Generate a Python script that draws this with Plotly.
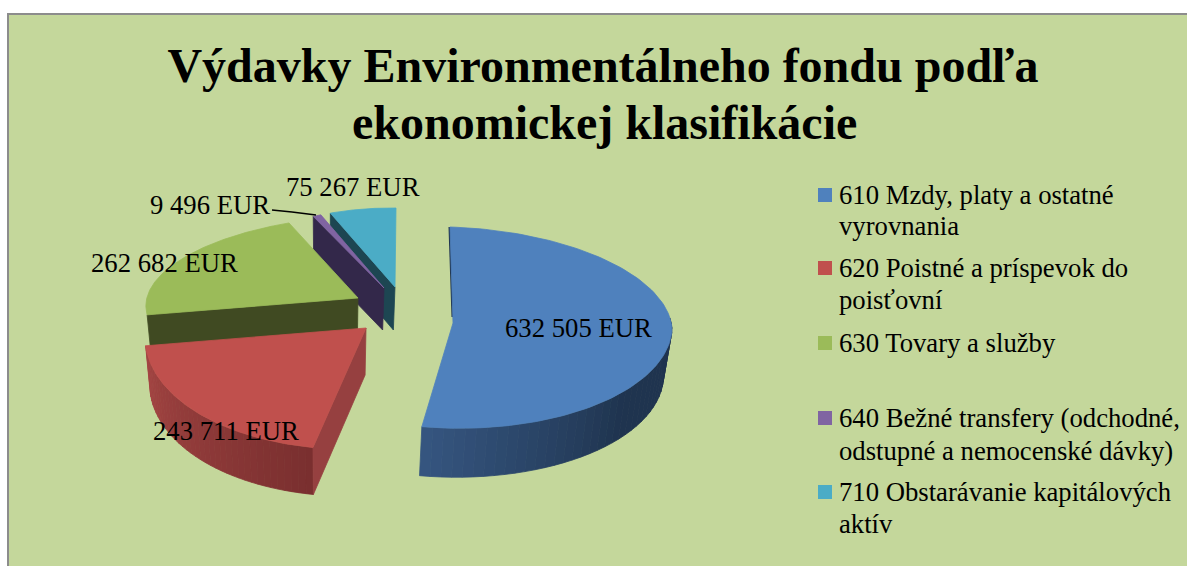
import plotly.graph_objects as go
import numpy as np

# ---- data ----
categories = ["610 Mzdy, platy a ostatné<br>vyrovnania",
              "620 Poistné a príspevok do<br>poisťovní",
              "630 Tovary a služby",
              "640 Bežné transfery (odchodné,<br>odstupné a nemocenské dávky)",
              "710 Obstarávanie kapitálových<br>aktív"]
values = [632505, 243711, 262682, 9496, 75267]
colors = ["#4F81BD", "#C0504D", "#9BBB59", "#8064A2", "#4BACC6"]
title_lines = ["Výdavky Environmentálneho fondu podľa", "ekonomickej klasifikácie"]

# ---- 3D projection of each exploded slice (pixel-mapped axes) ----
apex = [(453, 323), (366, 328), (358, 298), (384, 288), (395, 287)]
U = [(219, 7), (219, 8), (211, 0.6), (170, 0), (174, 2)]
V_top = [(-3, -96), (30, -121), (22, -82.5), (1, -79), (1, -79)]
V_bot = [(8, -105), (30, -121), (22, -82.5), (1, -79), (1, -79)]
depth = [49, 47, 46, 42, 43]
PERSP = 0.025
VPX = 330
BG = "#C4D79B"
FONT = "Liberation Serif"
LABEL_SIZE = 26.7

total = sum(values)
edges = np.cumsum([0] + values) / total * 2 * np.pi


def P(i, t):
    t = np.asarray(t, dtype=float)
    c, s = np.cos(t), np.sin(t)
    vx = np.where(c >= 0, V_top[i][0], V_bot[i][0])
    vy = np.where(c >= 0, V_top[i][1], V_bot[i][1])
    return apex[i][0] + U[i][0] * s + vx * c, apex[i][1] + U[i][1] * s + vy * c


def ext(i, x, y):
    x = np.asarray(x, dtype=float)
    return x + PERSP * (VPX - x), np.asarray(y, dtype=float) + depth[i]


def poly(fig, x, y, color, name=None, hover=False):
    fig.add_trace(go.Scatter(
        x=list(x) + [x[0]], y=list(y) + [y[0]], mode="lines", fill="toself",
        fillcolor=color, line=dict(color=color, width=0.8), showlegend=False,
        name=name, hoverinfo="name" if hover else "skip"))


def mix(a, b, f):
    a = [int(a[k:k + 2], 16) for k in (1, 3, 5)]
    b = [int(b[k:k + 2], 16) for k in (1, 3, 5)]
    return "rgb(%d,%d,%d)" % tuple(round(p + (q - p) * f) for p, q in zip(a, b))


def radial_wall(fig, i, t, color):
    px, py = P(i, t)
    ax, ay = apex[i]
    ex, ey = ext(i, [px, ax], [py, ay])
    poly(fig, [ax, float(px), float(ex[0]), float(ex[1])],
         [ay, float(py), float(ey[0]), float(ey[1])], color)


def arc_wall(fig, i, t0, t1, c0, c1, cmid=None, n=36):
    ts = np.linspace(t0, t1, n + 1)
    for k in range(n):
        tt = np.linspace(ts[k], ts[k + 1], 4)
        x, y = P(i, tt)
        ex, ey = ext(i, x, y)
        f = k / (n - 1)
        if cmid is None:
            col = mix(c0, c1, f)
        else:
            col = mix(c0, cmid, min(1, f * 2.4)) if f < 0.42 else mix(cmid, c1, (f - 0.42) / 0.58)
        poly(fig, list(x) + list(ex[::-1]), list(y) + list(ey[::-1]), col)


def top(fig, i):
    ts = np.linspace(edges[i], edges[i + 1], 120)
    x, y = P(i, ts)
    poly(fig, [apex[i][0]] + list(x), [apex[i][1]] + list(y), colors[i],
         name=categories[i].replace("<br>", " ").strip(), hover=True)


fig = go.Figure()

# back to front: teal, purple, green, red, blue
radial_wall(fig, 4, edges[4], "#1D4652")
top(fig, 4)
radial_wall(fig, 3, edges[3], "#33284A")
top(fig, 3)
radial_wall(fig, 2, edges[2], "#404A22")
top(fig, 2)
arc_wall(fig, 1, edges[2], edges[1], "#A44543", "#7A2F2F")
radial_wall(fig, 1, edges[1], "#964040")
top(fig, 1)
arc_wall(fig, 0, np.pi / 2 * 0.92, edges[1], "#1F344F", "#35557F", cmid="#1F344F")
x0, y0 = P(0, 0.0)
fig.add_trace(go.Scatter(x=[float(x0), apex[0][0]], y=[float(y0), apex[0][1] - 6], mode="lines",
                         line=dict(color="#1F344F", width=3), showlegend=False, hoverinfo="skip"))
top(fig, 0)

# data labels
label_pos = [(578, 328), (226, 431), (164, 263), (210, 205), (353, 187)]
for v, (lx, ly) in zip(values, label_pos):
    fig.add_annotation(x=lx, y=ly, text=f"{v:,}".replace(",", " ") + " EUR", showarrow=False,
                       font=dict(family=FONT, size=LABEL_SIZE, color="black"))

# legend, laid out as in the reference (swatch level with the first line)
LEGEND_TEXT_X = 837
LEGEND_SWATCH_X = 825
legend_line_y = [[195, 226], [268, 300], [343], [418, 451], [492, 524]]
for cat, col, ys in zip(categories, colors, legend_line_y):
    fig.add_trace(go.Scatter(x=[LEGEND_SWATCH_X], y=[ys[0]], mode="markers", showlegend=False,
                             name=cat.replace("<br>", " "), hoverinfo="name",
                             marker=dict(symbol="square", size=14, color=col)))
    for line, ly in zip(cat.split("<br>"), ys):
        fig.add_annotation(x=LEGEND_TEXT_X, y=ly, text=line, showarrow=False, xanchor="left",
                           font=dict(family=FONT, size=LABEL_SIZE, color="black"))

fig.add_annotation(x=604, y=122, text=f"<b>{title_lines[1]}</b>", showarrow=False,
                   font=dict(family=FONT, size=48, color="black"))

fig.update_layout(
    width=1187, height=566, autosize=False,
    margin=dict(l=9, r=0, t=15, b=0),
    paper_bgcolor="white", plot_bgcolor=BG,
    showlegend=False,
    title=dict(text=f"<b>{title_lines[0]}</b>", x=0.508, xanchor="center",
               y=0.885, yanchor="middle",
               font=dict(family=FONT, size=48, color="black")),
    xaxis=dict(range=[9, 1187], visible=True, showgrid=False, zeroline=False, showticklabels=False,
               ticks="", showline=True, linecolor="#8C8C8C", linewidth=2, side="top", fixedrange=True),
    yaxis=dict(range=[566, 15], visible=True, showgrid=False, zeroline=False, showticklabels=False,
               ticks="", showline=True, linecolor="#8C8C8C", linewidth=2, side="left", fixedrange=True),
)

fig.add_shape(type="line", x0=272, y0=210, x1=292, y1=212, line=dict(color="black", width=1.5))
fig.add_shape(type="line", x0=292, y0=212, x1=316, y1=215, line=dict(color="black", width=1.5))

fig.write_html("out.html", config={"displayModeBar": False},
               post_script="document.body.style.margin='0';document.body.style.overflow='hidden';")
